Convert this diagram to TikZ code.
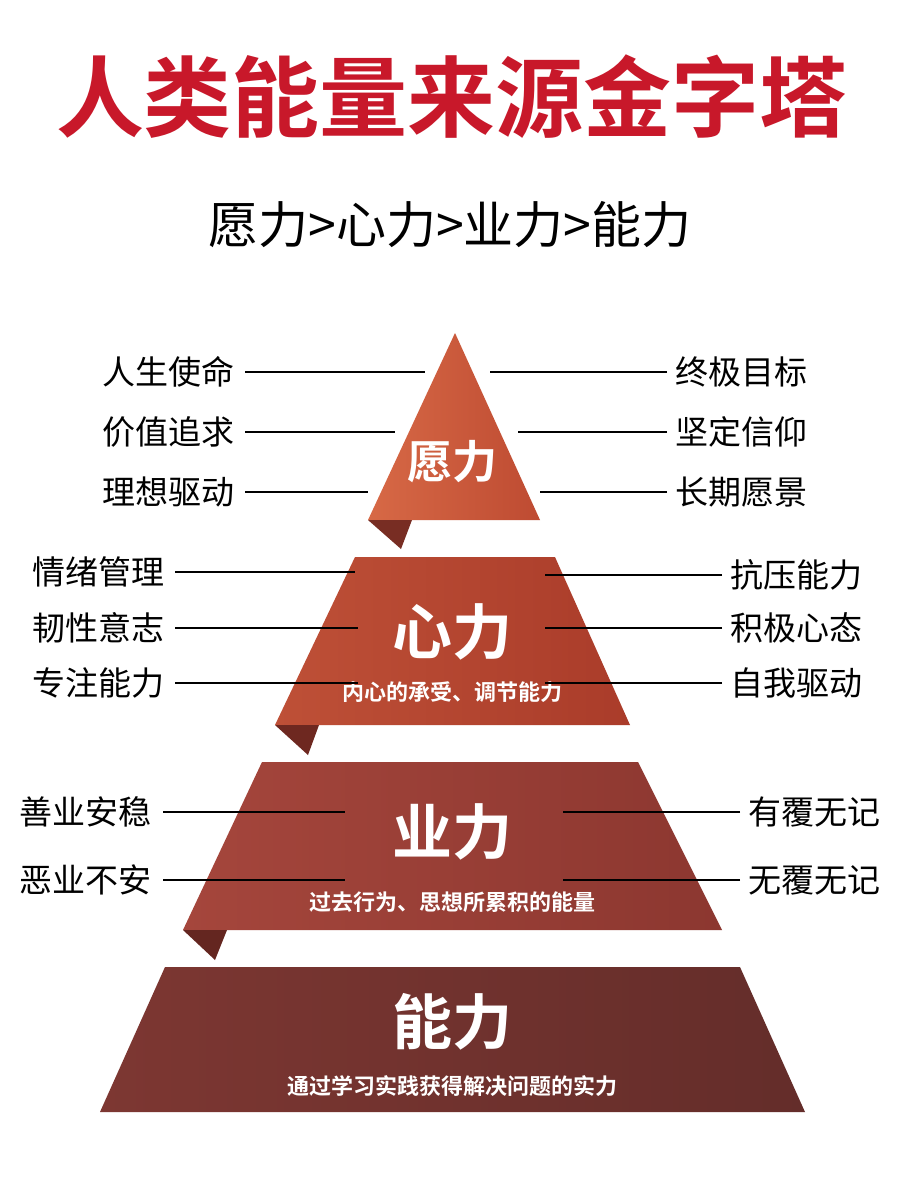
\documentclass[tikz,border=0pt]{standalone}
\usepackage{fontspec}
\setmainfont{Noto Sans CJK SC}[BoldFont={Noto Sans CJK SC Bold}]
\definecolor{ttl}{RGB}{200,24,42}
\definecolor{a1}{RGB}{215,105,70}\definecolor{a2}{RGB}{190,75,50}\definecolor{af}{RGB}{120,45,35}
\definecolor{b1}{RGB}{190,80,55}\definecolor{b2}{RGB}{170,60,42}\definecolor{bf}{RGB}{110,40,32}
\definecolor{c1}{RGB}{165,70,60}\definecolor{c2}{RGB}{140,55,48}\definecolor{cf}{RGB}{100,38,32}
\definecolor{d1}{RGB}{125,55,50}\definecolor{d2}{RGB}{100,45,42}
\begin{document}
\begin{tikzpicture}[x=1pt,y=-1pt,
  lab/.style={font=\fontsize{33}{33}\selectfont,inner sep=0pt},
  ln/.style={line width=1.6pt,black},
  tier/.style={text=white,font=\bfseries\fontsize{#1}{#1}\selectfont,inner sep=0pt},
  sub/.style={text=white,font=\bfseries\fontsize{22}{22}\selectfont,inner sep=0pt}]
\useasboundingbox (0,0) rectangle (900,1200);
\fill[white] (0,0) rectangle (900,1200);
\node[text=ttl,font=\bfseries\fontsize{88}{88}\selectfont] (title) at (452,97) {人类能量来源金字塔};
\node[font=\fontsize{50}{50}\selectfont] (subt) at (450,225) {愿力>心力>业力>能力};
% tiers
\shade[left color=a1,right color=a2] (455,333) -- (540,520) -- (368,520) -- cycle;
\fill[af] (368,520) -- (412,520) -- (401,549) -- cycle;
\shade[left color=b1,right color=b2] (355,557) -- (555,557) -- (630,725) -- (275,725) -- cycle;
\fill[bf] (275,725) -- (319,725) -- (308,755) -- cycle;
\shade[left color=c1,right color=c2] (262,762) -- (638,762) -- (722,930) -- (183,930) -- cycle;
\fill[cf] (183,930) -- (227,930) -- (215,960) -- cycle;
\shade[left color=d1,right color=d2] (165,967) -- (740,967) -- (805,1112) -- (100,1112) -- cycle;
\node[tier=45] (t1) at (452,462) {愿力};
\node[tier=60] (t2) at (452,632) {心力};
\node[sub] (s2) at (452,692) {内心的承受、调节能力};
\node[tier=60] (t3) at (452,832) {业力};
\node[sub] (s3) at (452,902) {过去行为、思想所累积的能量};
\node[tier=60] (t4) at (452,1022) {能力};
\node[sub] (s4) at (452,1086) {通过学习实践获得解决问题的实力};
% left labels
\foreach \n/\t/\y/\e in {a/人生使命/372/425,b/价值追求/432/395,c/理想驱动/492/368}{
  \node[lab,anchor=east] (\n) at (235,\y) {\t};
  \coordinate (\n e) at (\e,\y);
  \draw[ln] ([xshift=10pt]\n.east) -- (\n e);}
\foreach \n/\t/\y/\e in {d/终极目标/372/490,f/坚定信仰/432/518,g/长期愿景/492/540}{
  \node[lab,anchor=west] (\n) at (675,\y) {\t};
  \coordinate (\n e) at (\e,\y);
  \draw[ln] ([xshift=-8pt]\n.west) -- (\n e);}
\foreach \n/\t/\y/\e in {h/情绪管理/572/355,i/韧性意志/628/358,j/专注能力/683/358}{
  \node[lab,anchor=east] (\n) at (165,\y) {\t};
  \coordinate (\n e) at (\e,\y);
  \draw[ln] ([xshift=10pt]\n.east) -- (\n e);}
\foreach \n/\t/\y/\e in {k/抗压能力/575/545,l/积极心态/628/545,m/自我驱动/683/545}{
  \node[lab,anchor=west] (\n) at (730,\y) {\t};
  \coordinate (\n e) at (\e,\y);
  \draw[ln] ([xshift=-8pt]\n.west) -- (\n e);}
\foreach \n/\t/\y/\e in {o/善业安稳/812/345,p/恶业不安/880/345}{
  \node[lab,anchor=east] (\n) at (152,\y) {\t};
  \coordinate (\n e) at (\e,\y);
  \draw[ln] ([xshift=11pt]\n.east) -- (\n e);}
\foreach \n/\t/\y/\e in {q/有覆无记/812/563,r/无覆无记/880/563}{
  \node[lab,anchor=west] (\n) at (748,\y) {\t};
  \coordinate (\n e) at (\e,\y);
  \draw[ln] ([xshift=-8pt]\n.west) -- (\n e);}
\end{tikzpicture}
\end{document}
